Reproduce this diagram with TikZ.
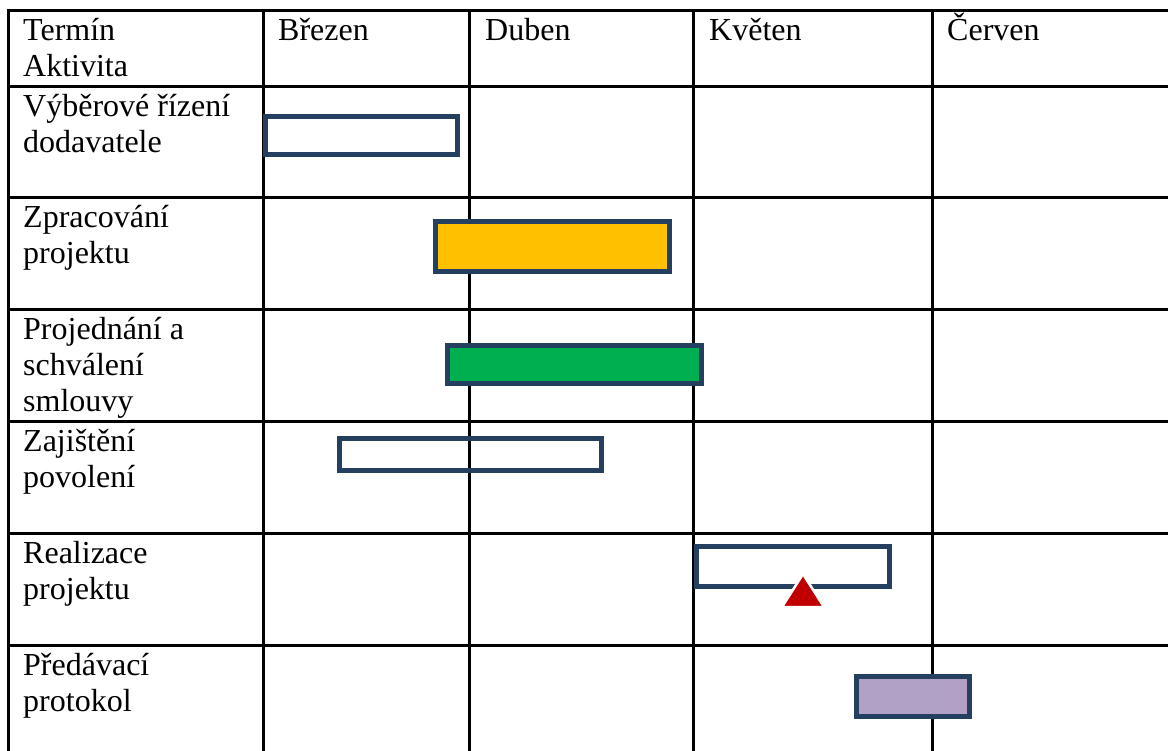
\documentclass[tikz,border=0pt]{standalone}
\usepackage{fontspec}
\setmainfont{Liberation Serif}
% multi-line cell text whose baseline is the baseline of its first line
\newcommand\celltext[1]{\vtop{\baselineskip=36pt\halign{##\hfil\cr#1\crcr}}}
\definecolor{barblue}{HTML}{243F60}
\definecolor{baryellow}{HTML}{FFC000}
\definecolor{bargreen}{HTML}{00B050}
\definecolor{barpurple}{HTML}{B2A1C7}
\definecolor{markred}{HTML}{C00000}
\begin{document}
\begin{tikzpicture}[x=1pt,y=-1pt,
  gridline/.style={line width=3pt,black},
  bar/.style={draw=barblue,line width=5pt},
  lbl/.style={anchor=base west,inner sep=0pt,font=\fontsize{32}{36}\selectfont}]
\useasboundingbox (0,0) rectangle (1168,751);
\clip (0,0) rectangle (1168,751);
\fill[white] (0,0) rectangle (1168,751);

% table grid
\foreach \x in {8,263,469,693,932}
  \draw[gridline] (\x,9.5) -- (\x,770);
\foreach \y in {11,87,198,310,421,533,645}
  \draw[gridline] (6.5,\y) -- (1180,\y);

% header row
\node[lbl] (hdr) at (23,41) {\celltext{Termín\cr Aktivita}};
\node[lbl] (m1) at (278,41) {Březen};
\node[lbl] (m2) at (485,41) {Duben};
\node[lbl] (m3) at (709,41) {Květen};
\node[lbl] (m4) at (947,41) {Červen};

% activity labels
\node[lbl] (a1) at (23,117) {\celltext{Výběrové řízení\cr dodavatele}};
\node[lbl] (a2) at (23,228) {\celltext{Zpracování\cr projektu}};
\node[lbl] (a3) at (23,340) {\celltext{Projednání a\cr schválení\cr smlouvy}};
\node[lbl] (a4) at (23,451) {\celltext{Zajištění\cr povolení}};
\node[lbl] (a5) at (23,563) {\celltext{Realizace\cr projektu}};
\node[lbl] (a6) at (23,675) {\celltext{Předávací\cr protokol}};

% Gantt bars
\draw[bar,fill=white] (265.5,116.5) rectangle (457.5,154.5);
\draw[bar,fill=baryellow] (435.5,221.5) rectangle (669.5,271.5);
\draw[bar,fill=bargreen] (447.5,345.5) rectangle (701.5,383.5);
\draw[bar] (339.5,438.5) rectangle (601.5,470.5);
\draw[bar,fill=white] (696.5,546.5) rectangle (889.5,586.5);
\draw[bar,fill=barpurple] (856.5,676.5) rectangle (969.5,716.5);

% milestone marker
\draw[fill=markred,draw=white,line width=2.5pt,line join=round]
  (803,574) -- (824,607) -- (782,607) -- cycle;
\end{tikzpicture}
\end{document}
